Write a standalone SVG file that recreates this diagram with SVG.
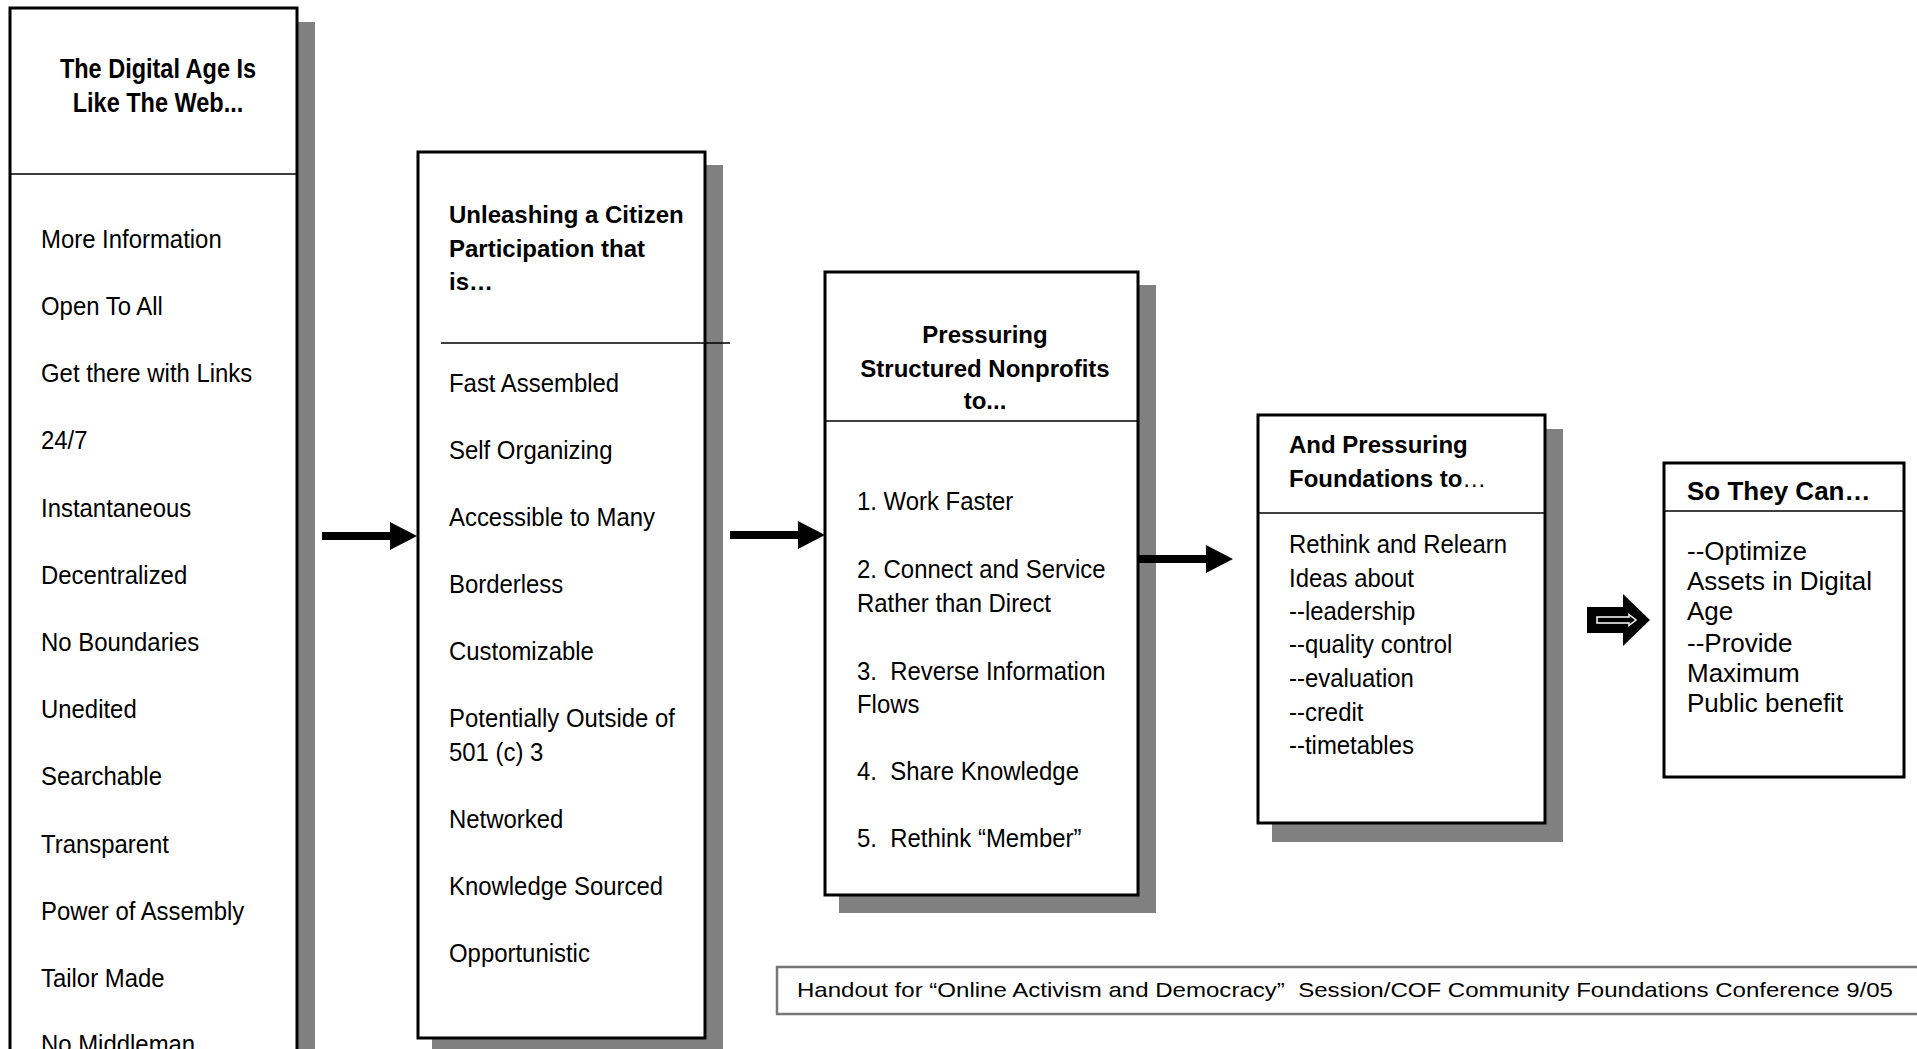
<svg xmlns="http://www.w3.org/2000/svg" width="1917" height="1049" viewBox="0 0 1917 1049">
<style>
.shadow{fill:#808080;stroke:none}
.box{fill:#fff;stroke:#000;stroke-width:3}
.div{stroke:#000;stroke-width:1.5;fill:none}
text{font-family:"Liberation Sans",Arial,Helvetica,sans-serif;fill:#000}
.body{font-size:26px}
.title{font-size:24px;font-weight:bold}
.big{font-size:27px;font-weight:bold}
.plain{font-size:26px}
.pre{white-space:pre}
.conn{stroke:#000;stroke-width:8;fill:none}
</style>
<defs>
<marker id="ah" markerUnits="userSpaceOnUse" viewBox="0 0 27 28" refX="1" refY="14" markerWidth="27" markerHeight="28" orient="auto">
<path d="M0,0 L27,14 L0,28 Z" fill="#000"/>
</marker>
</defs>
<rect width="1917" height="1049" fill="#fff"/>

<g id="node-digital-age">
<rect class="shadow" x="26" y="22" width="289" height="1100"/>
<rect class="box" x="10" y="8" width="287" height="1100"/>
<line class="div" x1="10" y1="174" x2="297" y2="174"/>
<g transform="translate(158,0) scale(0.87,1)">
<text class="big" x="0" y="78" text-anchor="middle">The Digital Age Is</text>
<text class="big" x="0" y="112" text-anchor="middle">Like The Web...</text>
</g>
<g transform="translate(41,0) scale(0.92,1)">
<text class="body" x="0" y="248">More Information</text>
<text class="body" x="0" y="315">Open To All</text>
<text class="body" x="0" y="382">Get there with Links</text>
<text class="body" x="0" y="449.5">24/7</text>
<text class="body" x="0" y="517">Instantaneous</text>
<text class="body" x="0" y="584">Decentralized</text>
<text class="body" x="0" y="651">No Boundaries</text>
<text class="body" x="0" y="718.5">Unedited</text>
<text class="body" x="0" y="785.5">Searchable</text>
<text class="body" x="0" y="853">Transparent</text>
<text class="body" x="0" y="920">Power of Assembly</text>
<text class="body" x="0" y="987">Tailor Made</text>
<text class="body" x="0" y="1053">No Middleman</text>
</g>
</g>

<g id="node-citizen">
<rect class="shadow" x="432" y="165" width="291" height="900"/>
<rect class="box" x="418" y="152" width="287" height="886"/>
<line class="div" x1="441" y1="343" x2="730" y2="343"/>
<text class="title" x="449" y="223">Unleashing a Citizen</text>
<text class="title" x="449" y="257">Participation that</text>
<text class="title" x="449" y="290">is…</text>
<g transform="translate(449,0) scale(0.92,1)">
<text class="body" x="0" y="392">Fast Assembled</text>
<text class="body" x="0" y="459">Self Organizing</text>
<text class="body" x="0" y="526">Accessible to Many</text>
<text class="body" x="0" y="593">Borderless</text>
<text class="body" x="0" y="660">Customizable</text>
<text class="body" x="0" y="727">Potentially Outside of</text>
<text class="body" x="0" y="761">501 (c) 3</text>
<text class="body" x="0" y="828">Networked</text>
<text class="body" x="0" y="895">Knowledge Sourced</text>
<text class="body" x="0" y="962">Opportunistic</text>
</g>
</g>

<g id="node-nonprofits">
<rect class="shadow" x="839" y="285" width="317" height="628"/>
<rect class="box" x="825" y="272" width="313" height="623"/>
<line class="div" x1="825" y1="421" x2="1138" y2="421"/>
<text class="title" x="985" y="343" text-anchor="middle">Pressuring</text>
<text class="title" x="985" y="377" text-anchor="middle">Structured Nonprofits</text>
<text class="title" x="985" y="409" text-anchor="middle">to...</text>
<g transform="translate(857,0) scale(0.92,1)">
<text class="body" x="0" y="510">1. Work Faster</text>
<text class="body" x="0" y="578">2. Connect and Service</text>
<text class="body" x="0" y="612">Rather than Direct</text>
<text class="body pre" x="0" y="680" xml:space="preserve">3.  Reverse Information</text>
<text class="body" x="0" y="713">Flows</text>
<text class="body pre" x="0" y="780" xml:space="preserve">4.  Share Knowledge</text>
<text class="body pre" x="0" y="847" xml:space="preserve">5.  Rethink “Member”</text>
</g>
</g>

<g id="node-foundations">
<rect class="shadow" x="1272" y="429" width="291" height="413"/>
<rect class="box" x="1258" y="415" width="287" height="408"/>
<line class="div" x1="1258" y1="513" x2="1545" y2="513"/>
<text class="title" x="1289" y="453">And Pressuring</text>
<text class="title" x="1289" y="487">Foundations to<tspan font-weight="normal">…</tspan></text>
<g transform="translate(1289,0) scale(0.92,1)">
<text class="body" x="0" y="553">Rethink and Relearn</text>
<text class="body" x="0" y="587">Ideas about</text>
<text class="body" x="0" y="620">--leadership</text>
<text class="body" x="0" y="653">--quality control</text>
<text class="body" x="0" y="687">--evaluation</text>
<text class="body" x="0" y="721">--credit</text>
<text class="body" x="0" y="754">--timetables</text>
</g>
</g>

<g id="node-so-they-can">
<rect class="box" x="1664" y="463" width="240" height="314"/>
<line class="div" x1="1664" y1="511" x2="1904" y2="511"/>
<text x="1687" y="500" font-size="26" font-weight="bold">So They Can…</text>
<text class="plain" x="1687" y="560">--Optimize</text>
<text class="plain" x="1687" y="590">Assets in Digital</text>
<text class="plain" x="1687" y="620">Age</text>
<text class="plain" x="1687" y="652">--Provide</text>
<text class="plain" x="1687" y="682">Maximum</text>
<text class="plain" x="1687" y="712">Public benefit</text>
</g>

<g id="connectors">
<line class="conn" x1="322" y1="536" x2="391" y2="536" marker-end="url(#ah)"/>
<line class="conn" x1="730" y1="535" x2="799" y2="535" marker-end="url(#ah)"/>
<line class="conn" x1="1138" y1="559" x2="1207" y2="559" marker-end="url(#ah)"/>
<g id="block-arrow">
<polygon points="1587,607 1623,607 1623,594 1650,620 1623,646 1623,633 1587,633" fill="#000"/>
<polygon points="1597,617 1629,617 1629,614.5 1636,620 1629,625.5 1629,623 1597,623" fill="#000" stroke="#fff" stroke-width="1.5"/>
</g>
</g>

<g id="footer">
<rect x="777" y="967" width="1160" height="47" fill="#fff" stroke="#777" stroke-width="2.5"/>
<text class="pre" x="797" y="997" font-size="21" textLength="1096" lengthAdjust="spacingAndGlyphs" xml:space="preserve">Handout for “Online Activism and Democracy”  Session/COF Community Foundations Conference 9/05</text>
</g>
</svg>
